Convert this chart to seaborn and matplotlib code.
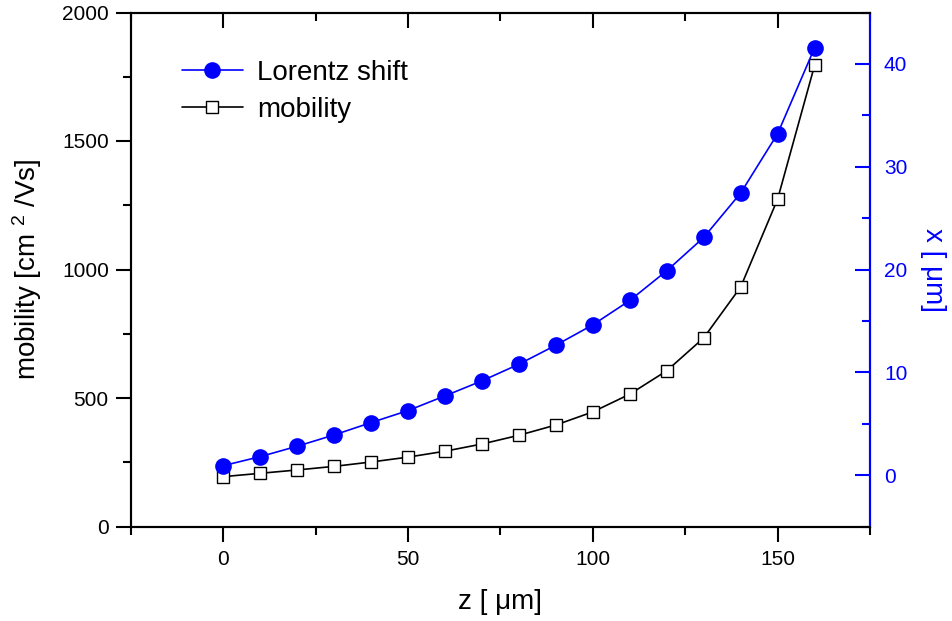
import matplotlib
matplotlib.use("Agg")
import matplotlib.pyplot as plt
from matplotlib.lines import Line2D
from matplotlib.ticker import MultipleLocator
import seaborn as sns
import pandas as pd

z = [0, 10, 20, 30, 40, 50, 60, 70, 80, 90, 100, 110, 120, 130, 140, 150, 160]
mobility = [194, 207, 220, 234, 251, 270, 293, 321, 355, 395, 446, 515, 606, 734, 932, 1274, 1794]
lorentz_shift = [0.92, 1.80, 2.81, 3.91, 5.11, 6.28, 7.71, 9.17, 10.79, 12.64, 14.62,
                 16.99, 19.88, 23.12, 27.44, 33.21, 41.56]

df = pd.DataFrame({"z": z, "mobility": mobility, "shift": lorentz_shift})

sns.set_theme(style="white")
plt.rcParams['font.family'] = ['Liberation Sans', 'DejaVu Sans']
plt.rcParams['mathtext.fontset'] = 'custom'
plt.rcParams['mathtext.rm'] = 'Liberation Sans'
plt.rcParams['mathtext.it'] = 'Liberation Sans'
plt.rcParams['text.color'] = 'black'
plt.rcParams['axes.labelcolor'] = 'black'
plt.rcParams['xtick.color'] = 'black'
plt.rcParams['ytick.color'] = 'black'

fig = plt.figure(figsize=(9.53, 6.21), dpi=100)
ax = fig.add_axes([131/953, 1-526.5/621, (870-131)/953, (526.5-12.5)/621])
ax2 = ax.twinx()

sns.lineplot(data=df, x="z", y="mobility", ax=ax, color="black", linewidth=1.2,
             marker="s", markersize=8.5, markerfacecolor="white",
             markeredgecolor="black", markeredgewidth=1.0)
sns.lineplot(data=df, x="z", y="shift", ax=ax2, color="blue", linewidth=1.2,
             marker="o", markersize=12, markerfacecolor="blue",
             markeredgecolor="blue", markeredgewidth=0)

ax.set_xlim(-25, 175)
ax.set_ylim(0, 2000)
ax2.set_ylim(-5, 45)

ax.xaxis.set_major_locator(MultipleLocator(50))
ax.xaxis.set_minor_locator(MultipleLocator(25))
ax.yaxis.set_major_locator(MultipleLocator(500))
ax.yaxis.set_minor_locator(MultipleLocator(250))
ax2.yaxis.set_major_locator(MultipleLocator(10))
ax2.yaxis.set_minor_locator(MultipleLocator(5))

ax.tick_params(axis='x', which='both', direction='out', bottom=True, top=False,
               labelsize=15, pad=6, colors='black')
ax.tick_params(axis='x', which='major', length=11, width=1.5)
ax.tick_params(axis='x', which='minor', length=6, width=1.5)
ax.tick_params(axis='y', which='both', direction='out', left=True, right=False,
               labelsize=15, pad=5, colors='black')
ax.tick_params(axis='y', which='major', length=11, width=1.5)
ax.tick_params(axis='y', which='minor', length=6, width=1.5)

# top ticks pointing inward, drawn by the twin axes' x axis
ax2.xaxis.set_visible(True)
ax2.xaxis.set_major_locator(MultipleLocator(50))
ax2.xaxis.set_minor_locator(MultipleLocator(25))
ax2.tick_params(axis='x', which='both', direction='in', top=True, bottom=False,
                labeltop=False, labelbottom=False, colors='black')
ax2.tick_params(axis='x', which='major', length=11, width=1.5)
ax2.tick_params(axis='x', which='minor', length=6, width=1.5)
ax2.set_xlabel("")

ax2.tick_params(axis='y', which='both', direction='in', right=True, left=False,
                labelsize=15, pad=10, colors='blue')
ax2.tick_params(axis='y', which='major', length=11, width=1.5)
ax2.tick_params(axis='y', which='minor', length=6, width=1.5)

for a in (ax, ax2):
    for s in a.spines.values():
        s.set_linewidth(1.5)
        s.set_color('black')
ax2.spines['right'].set_color('blue')

ax.set_xlabel("z [ μm]", fontsize=20, labelpad=14, color='black')
ax.set_ylabel("mobility [cm $^{2}$ /Vs]", fontsize=20, labelpad=13, color='black')
ax2.set_ylabel("x [ μm]", fontsize=20, color='blue', rotation=270, labelpad=28)

handles = [
    Line2D([], [], color='blue', linewidth=1.2, marker='o', markersize=12,
           markerfacecolor='blue', markeredgewidth=0),
    Line2D([], [], color='black', linewidth=1.2, marker='s', markersize=8.5,
           markerfacecolor='white', markeredgecolor='black', markeredgewidth=1.0),
]
leg = ax.legend(handles, ["Lorentz shift", "mobility"], loc='upper left',
                bbox_to_anchor=(0.035, 0.957), frameon=False, fontsize=20,
                handlelength=2.2, handletextpad=0.5, labelspacing=0.4)
for t in leg.get_texts():
    t.set_color('black')

fig.savefig("out.png", dpi=100)
